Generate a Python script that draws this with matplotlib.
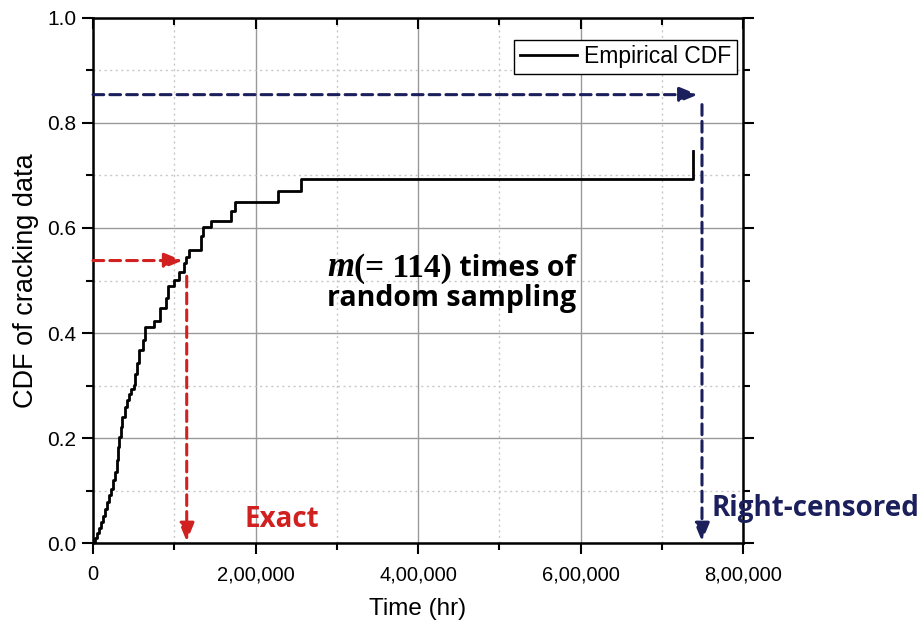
import matplotlib
matplotlib.use("Agg")
import matplotlib.pyplot as plt
from matplotlib.ticker import MultipleLocator, FuncFormatter

# ---- data ----
times = [0, 2460, 4920, 7380, 9850, 12300, 14770, 17230, 19690, 22150, 24620,
         27080, 28920, 30150, 32000, 34090, 35690, 39380, 41850, 44310, 46770,
         49850, 51690, 53540, 56980, 61170, 64000, 75080, 82460, 89850, 92680,
         99690, 106200, 112000, 114460, 118520, 132550, 135380, 145230, 169480,
         174770, 227320, 255630, 738830]
cdf = [0.0, 0.0095, 0.019, 0.029, 0.040, 0.052, 0.065, 0.078, 0.092, 0.103, 0.120,
       0.135, 0.158, 0.183, 0.202, 0.221, 0.240, 0.259, 0.273, 0.284, 0.294,
       0.301, 0.322, 0.343, 0.368, 0.387, 0.412, 0.423, 0.448, 0.467, 0.490,
       0.501, 0.517, 0.534, 0.545, 0.559, 0.585, 0.601, 0.614, 0.633,
       0.650, 0.671, 0.694, 0.746]

exact_time = 115300
exact_cdf = 0.538
exact_top = 0.508
cens_time = 749500
cens_cdf = 0.854
cens_top = 0.835

legend_label = "Empirical CDF"
xlabel = "Time (hr)"
ylabel = "CDF of cracking data"
note_parts = ["m", "(= 114)", " times of"]
note_line2 = "random sampling"

red = "#d0201f"
navy = "#1b1f5c"

plt.rcParams['font.family'] = ['Liberation Sans', 'DejaVu Sans']

fig = plt.figure(figsize=(9.23, 6.29), dpi=100)
ax = fig.add_axes([0.1008, 0.1367, 0.7042, 0.8347])

ax.plot(times, cdf, drawstyle='steps-post', color='black', lw=2.0, label=legend_label, zorder=5)

ax.set_xlim(0, 800000)
ax.set_ylim(0, 1.0)
ax.xaxis.set_major_locator(MultipleLocator(200000))
ax.xaxis.set_minor_locator(MultipleLocator(100000))
ax.yaxis.set_major_locator(MultipleLocator(0.2))
ax.yaxis.set_minor_locator(MultipleLocator(0.1))

def indfmt(v, pos):
    v = int(round(v))
    if v == 0:
        return "0"
    s = str(v)
    last3 = s[-3:]
    rest = s[:-3]
    parts = []
    while len(rest) > 2:
        parts.insert(0, rest[-2:])
        rest = rest[:-2]
    if rest:
        parts.insert(0, rest)
    return ",".join(parts + [last3])

ax.xaxis.set_major_formatter(FuncFormatter(indfmt))
ax.yaxis.set_major_formatter(FuncFormatter(lambda v, p: f"{v:.1f}"))

ax.grid(which='major', color='#9a9a9a', lw=1.0, ls='-')
ax.grid(which='minor', color='#c8c8c8', lw=1.0, ls=(0, (1.5, 2.5)))
ax.set_axisbelow(True)

for s in ax.spines.values():
    s.set_linewidth(1.8)

ax.tick_params(which='both', top=True, right=True, width=1.5)
ax.tick_params(axis='both', which='major', length=8, labelsize=15)
ax.tick_params(axis='both', which='minor', length=5)
ax.tick_params(axis='x', which='major', labelsize=14.5, pad=8)
ax.tick_params(axis='y', which='major', pad=4)
# inward ticks on top/right, outward on left/bottom
for t in ax.xaxis.get_major_ticks() + ax.xaxis.get_minor_ticks():
    t.tick2line.set_marker(3)  # TICKDOWN
for t in ax.yaxis.get_major_ticks() + ax.yaxis.get_minor_ticks():
    t.tick2line.set_marker(1)  # TICKLEFT

ax.set_xlabel(xlabel, fontsize=17.5, labelpad=10)
ax.set_ylabel(ylabel, fontsize=19.5, labelpad=6)

leg = ax.legend(loc='upper right', bbox_to_anchor=(0.9908, 0.959), fontsize=16.5,
                frameon=True, fancybox=False, edgecolor='black', handlelength=2.5,
                borderaxespad=0, handletextpad=0.3, borderpad=0.25)
leg.get_frame().set_linewidth(1.0)
leg.get_frame().set_alpha(1)

dash = (0, (3.5, 2.0))
ap = '-|>,head_length=1.1,head_width=0.45'
# Exact arrows
ax.annotate("", xy=(exact_time - 5000, exact_cdf), xytext=(0, exact_cdf),
            arrowprops=dict(arrowstyle=ap, color=red,
                            lw=2.2, ls=dash, shrinkA=0, shrinkB=0), zorder=6)
ax.annotate("", xy=(exact_time, 0.003), xytext=(exact_time, exact_top),
            arrowprops=dict(arrowstyle=ap, color=red,
                            lw=2.2, ls=dash, shrinkA=0, shrinkB=0), zorder=6)
# Right-censored arrows
ax.annotate("", xy=(cens_time - 5000, cens_cdf), xytext=(0, cens_cdf),
            arrowprops=dict(arrowstyle=ap, color=navy,
                            lw=2.2, ls=dash, shrinkA=0, shrinkB=0), zorder=6)
ax.annotate("", xy=(cens_time, 0.003), xytext=(cens_time, cens_top),
            arrowprops=dict(arrowstyle=ap, color=navy,
                            lw=2.2, ls=dash, shrinkA=0, shrinkB=0), zorder=6)

ax.text(187000, 0.045, "Exact", color=red, fontsize=20, fontweight='bold',
        family=['Open Sans', 'DejaVu Sans'], ha='left', va='center')
ax.text(761000, 0.065, "Right-censored", color=navy, fontsize=20, fontweight='bold',
        family=['Open Sans', 'DejaVu Sans'], ha='left', va='center', clip_on=False)

# annotation text composed of pieces in different fonts
y1 = 0.508
styles = [dict(family=['Liberation Serif', 'DejaVu Serif'], style='italic', fontweight='bold', fontsize=25),
          dict(family=['Liberation Serif', 'DejaVu Serif'], fontweight='bold', fontsize=24),
          dict(family=['Open Sans', 'DejaVu Sans'], fontweight='bold', fontsize=20.5)]
fig.canvas.draw()
renderer = fig.canvas.get_renderer()
xcur = 288000
for part, st in zip(note_parts, styles):
    t = ax.text(xcur, y1, part, color='black', ha='left', va='baseline', **st)
    bb = t.get_window_extent(renderer=renderer)
    xcur = ax.transData.inverted().transform((bb.x1, bb.y0))[0]
ax.text(288000, 0.452, note_line2, color='black',
        fontsize=20.5, fontweight='bold', family=['Open Sans', 'DejaVu Sans'],
        ha='left', va='baseline')

fig.savefig("out.png", dpi=100)
